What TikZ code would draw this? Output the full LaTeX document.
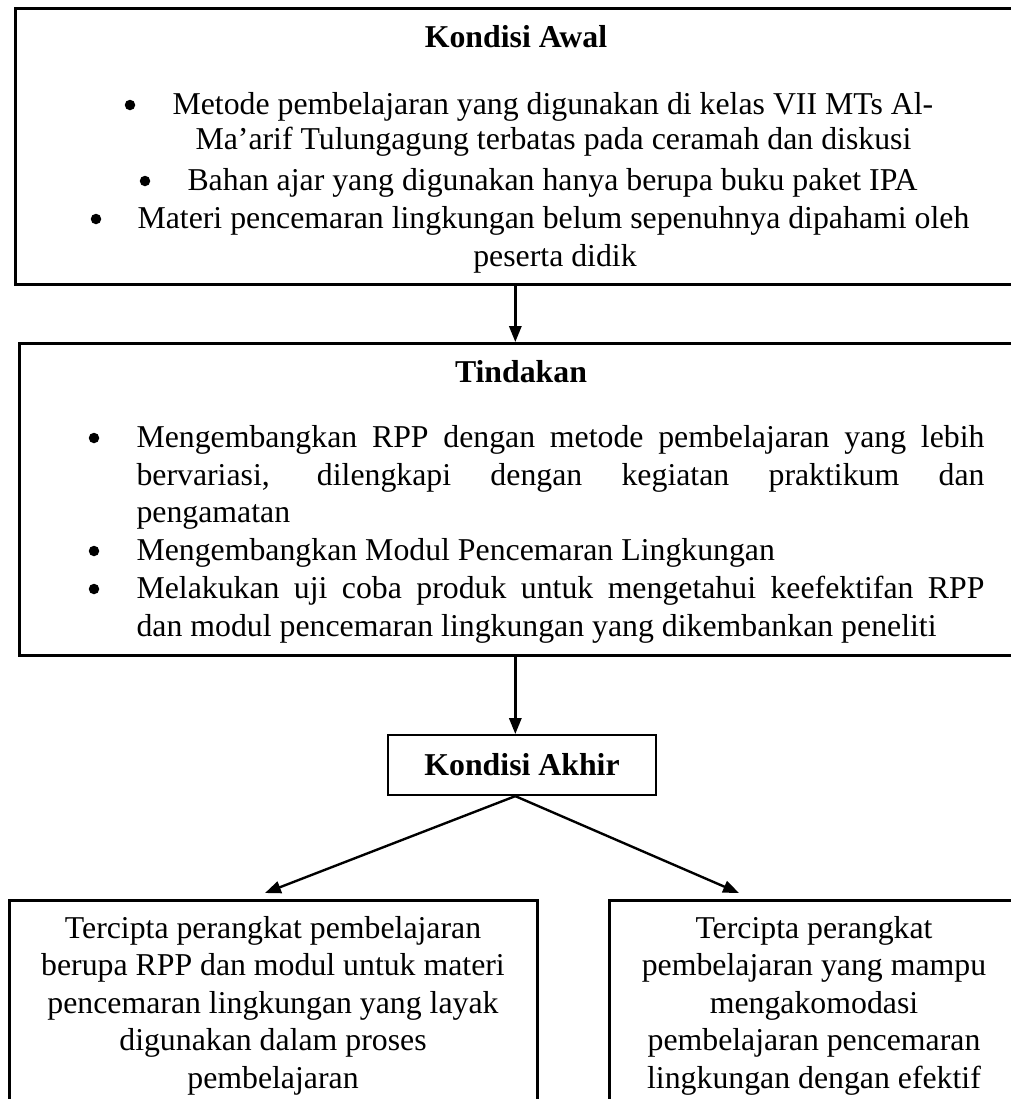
\documentclass[tikz,border=0pt]{standalone}
\usepackage{fontspec}
\setmainfont{Liberation Serif}
\usetikzlibrary{arrows.meta,positioning}
\def\pxu{0.3774pt}
\newcommand{\barisrata}[1]{\makebox[320pt][s]{#1}}

\begin{document}
\begin{tikzpicture}[x=0.3774pt,y=0.3774pt,yscale=-1,
  kotak/.style={draw, line width=1pt, inner sep=0pt, anchor=north west},
  teks/.style={inner sep=0pt, anchor=base west, font=\fontsize{12}{14.1}\selectfont},
  tekstengah/.style={inner sep=0pt, anchor=base, font=\fontsize{12}{14.1}\selectfont},
  judul/.style={tekstengah, font=\fontsize{12}{14.1}\selectfont\bfseries},
  titik/.style={circle, fill, inner sep=0pt, minimum size=10.5*\pxu},
  panah/.style={line width=0.9pt, -{Triangle[length=6pt,width=4.6pt]}}]
\useasboundingbox (0,0) rectangle (1011,1099);
\clip (0,0) rectangle (1011,1099);

%Shape: Kondisi Awal
\node[kotak, minimum width=1000*\pxu, minimum height=276*\pxu] (awal) at (14,7) {};
% Text Node
\node[judul] (judulawal) at (516,47) {Kondisi Awal};
\node[titik] (b1) at (130,105) {};
\node[teks] (a1) at (172,114) {Metode pembelajaran yang digunakan di kelas VII MTs Al-};
\node[teks] (a2) at (195,149) {Ma’arif Tulungagung terbatas pada ceramah dan diskusi};
\node[titik] (b2) at (145,181) {};
\node[teks] (a3) at (187,190) {Bahan ajar yang digunakan hanya berupa buku paket IPA};
\node[titik] (b3) at (96,219) {};
\node[teks] (a4) at (137,228) {Materi pencemaran lingkungan belum sepenuhnya dipahami oleh};
\node[tekstengah] (a5) at (555,266) {peserta didik};

%Shape: Tindakan
\node[kotak, minimum width=994*\pxu, minimum height=312*\pxu] (tindakan) at (18,342) {};
% Text Node
\node[judul] (judultindakan) at (521,382) {Tindakan};
\node[titik] (c1) at (94,438) {};
\node[teks] (d1) at (136,447) {\barisrata{Mengembangkan RPP dengan metode pembelajaran yang lebih}};
\node[teks] (d2) at (136,485) {\barisrata{bervariasi, dilengkapi dengan kegiatan praktikum dan}};
\node[teks] (d3) at (136,522) {pengamatan};
\node[titik] (c2) at (94,551) {};
\node[teks] (d4) at (136,560) {Mengembangkan Modul Pencemaran Lingkungan};
\node[titik] (c3) at (94,589) {};
\node[teks] (d5) at (136,598) {\barisrata{Melakukan uji coba produk untuk mengetahui keefektifan RPP}};
\node[teks] (d6) at (136,636) {dan modul pencemaran lingkungan yang dikembankan peneliti};

%Shape: Kondisi Akhir
\node[kotak, line width=0.8pt, minimum width=268*\pxu, minimum height=60*\pxu,
  font=\fontsize{12}{14.1}\selectfont\bfseries] (akhir) at (387,734) {Kondisi Akhir};

%Shape: hasil
\node[kotak, minimum width=528*\pxu, minimum height=260*\pxu] (hasilkiri) at (8,899) {};
\node[kotak, minimum width=420*\pxu, minimum height=260*\pxu] (hasilkanan) at (608,899) {};
% Text Node
\node[tekstengah, anchor=north, align=center] (teksa) at (273,916)
  {Tercipta perangkat pembelajaran\\berupa RPP dan modul untuk materi\\pencemaran lingkungan yang layak\\digunakan dalam proses\\pembelajaran};
\node[tekstengah, anchor=north, align=center] (teksb) at (814,916)
  {Tercipta perangkat\\pembelajaran yang mampu\\mengakomodasi\\pembelajaran pencemaran\\lingkungan dengan efektif};

%Straight Lines
\draw[panah] (awal.south) -- (awal.south |- tindakan.north);
\draw[panah] (awal.south |- tindakan.south) -- (awal.south |- akhir.north);
\coordinate (cabang) at (awal.south |- akhir.south);
\coordinate (ujungkiri) at (265,893);
\coordinate (ujungkanan) at (739,893);
\draw[panah] (cabang) -- (ujungkiri);
\draw[panah] (cabang) -- (ujungkanan);

\end{tikzpicture}
\end{document}
